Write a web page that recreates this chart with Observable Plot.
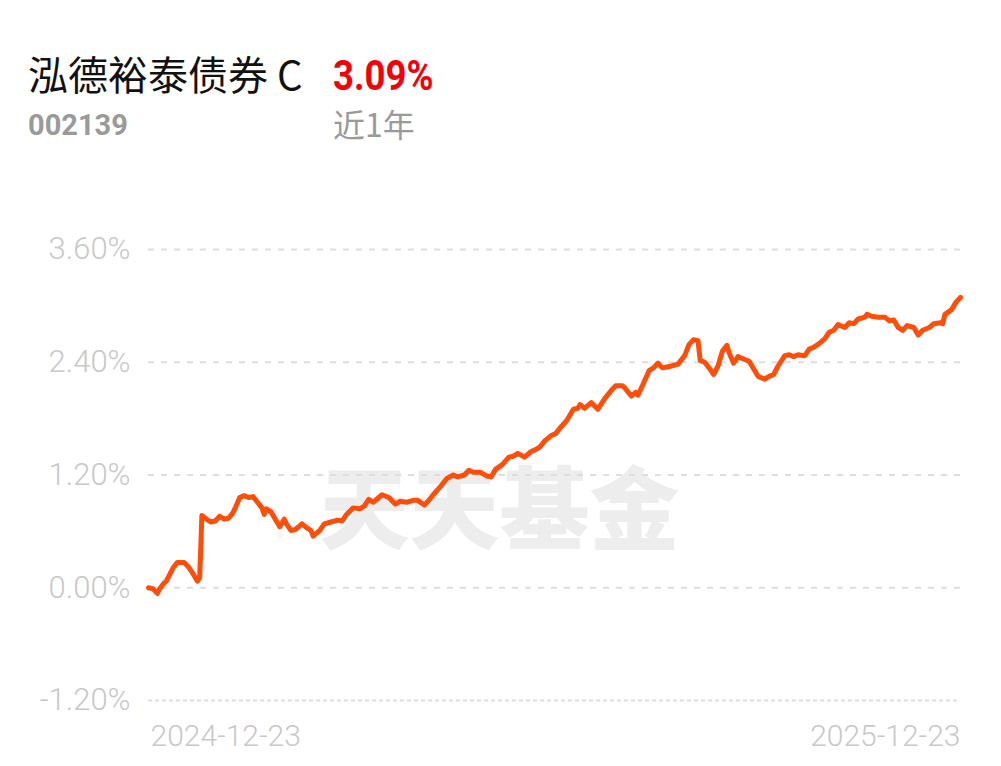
<!DOCTYPE html>
<html>
<head>
<meta charset="utf-8">
<script src="https://cdn.jsdelivr.net/npm/d3@7"></script>
<script src="https://cdn.jsdelivr.net/npm/@observablehq/plot@0.6"></script>
<style>
  html, body { margin: 0; padding: 0; background: #fff; }
  #page { position: relative; width: 1001px; height: 766px; overflow: hidden; }
  #header { position: absolute; left: 0; top: 0; }
  #chart { position: absolute; left: 0; top: 160px; }
</style>
</head>
<body>
<div id="page">
  <svg id="header" width="1001" height="160" xmlns="http://www.w3.org/2000/svg">
    <text id="name" x="28" y="90" style="font: 400 40px 'Noto Sans CJK SC', sans-serif; fill: #111;"></text>
    <text id="ret" x="333" y="90" transform="translate(333,0) scale(0.87,1) translate(-333,0)" style="font: 700 42px Roboto, sans-serif; fill: #f5000a;"></text>
    <text id="code" x="28" y="135" style="font: 700 29px Roboto, sans-serif; fill: #9a9a9a;"></text>
    <text id="period" x="333" y="137" style="font: 400 32px 'Noto Sans CJK SC', sans-serif; fill: #9a9a9a;"></text>
  </svg>
  <div id="chart"></div>
</div>
<script>
const fundName = "泓德裕泰债券 C";
const fundCode = "002139";
const periodLabel = "近1年";
const totalReturn = "3.09%";

const dates = [
  "2024-12-23","2024-12-25","2024-12-27","2024-12-28","2024-12-30","2024-12-31",
  "2025-01-03","2025-01-05","2025-01-08","2025-01-10","2025-01-12","2025-01-14","2025-01-15","2025-01-16","2025-01-18","2025-01-20","2025-01-22","2025-01-24","2025-01-26","2025-01-28","2025-01-30","2025-01-31",
  "2025-02-02","2025-02-04","2025-02-06","2025-02-08","2025-02-10","2025-02-12","2025-02-13","2025-02-14","2025-02-16","2025-02-18","2025-02-20","2025-02-22","2025-02-23","2025-02-25","2025-02-27",
  "2025-03-02","2025-03-04","2025-03-06","2025-03-07","2025-03-10","2025-03-12","2025-03-15","2025-03-18","2025-03-20","2025-03-22","2025-03-25","2025-03-28","2025-03-30",
  "2025-04-01","2025-04-03","2025-04-07","2025-04-10","2025-04-13","2025-04-15","2025-04-18","2025-04-21","2025-04-23","2025-04-26","2025-04-28","2025-04-30",
  "2025-05-03","2025-05-06","2025-05-09","2025-05-11","2025-05-14","2025-05-16","2025-05-18","2025-05-21","2025-05-24","2025-05-26","2025-05-28","2025-05-31",
  "2025-06-03","2025-06-05","2025-06-07","2025-06-10","2025-06-13","2025-06-15","2025-06-17","2025-06-19","2025-06-22","2025-06-24","2025-06-26","2025-06-29",
  "2025-07-02","2025-07-04","2025-07-05","2025-07-07","2025-07-10","2025-07-13","2025-07-16","2025-07-19","2025-07-21","2025-07-24","2025-07-25","2025-07-28","2025-07-30","2025-07-31",
  "2025-08-02","2025-08-05","2025-08-07","2025-08-09","2025-08-11","2025-08-13","2025-08-15","2025-08-18","2025-08-21","2025-08-23","2025-08-25","2025-08-27","2025-08-28","2025-08-30",
  "2025-09-01","2025-09-03","2025-09-05","2025-09-07","2025-09-09","2025-09-10","2025-09-12","2025-09-14","2025-09-17","2025-09-19","2025-09-21","2025-09-23","2025-09-26","2025-09-28","2025-09-30",
  "2025-10-02","2025-10-05","2025-10-07","2025-10-09","2025-10-11","2025-10-14","2025-10-16","2025-10-18","2025-10-20","2025-10-23","2025-10-25","2025-10-27","2025-10-29",
  "2025-11-01","2025-11-03","2025-11-05","2025-11-07","2025-11-10","2025-11-11","2025-11-13","2025-11-16","2025-11-19","2025-11-21","2025-11-23","2025-11-25","2025-11-27","2025-11-29",
  "2025-12-02","2025-12-04","2025-12-06","2025-12-09","2025-12-11","2025-12-14","2025-12-15","2025-12-16","2025-12-19","2025-12-21","2025-12-23"
];
const returns = [
  0.00,-0.01,-0.06,-0.01,0.05,0.07,
  0.21,0.27,0.27,0.22,0.15,0.07,0.11,0.77,0.73,0.70,0.71,0.76,0.73,0.74,0.80,0.85,
  0.96,0.98,0.96,0.97,0.91,0.85,0.78,0.84,0.81,0.73,0.65,0.73,0.68,0.61,0.62,
  0.68,0.64,0.61,0.55,0.61,0.68,0.70,0.72,0.71,0.78,0.85,0.84,0.87,
  0.94,0.91,0.99,0.96,0.89,0.92,0.91,0.93,0.93,0.88,0.93,0.99,
  1.07,1.16,1.20,1.18,1.20,1.25,1.23,1.23,1.19,1.18,1.26,1.31,
  1.39,1.40,1.43,1.39,1.45,1.47,1.50,1.56,1.62,1.64,1.70,1.78,
  1.90,1.91,1.95,1.91,1.97,1.90,2.01,2.10,2.15,2.15,2.13,2.04,2.08,2.05,
  2.15,2.31,2.34,2.39,2.34,2.35,2.36,2.38,2.47,2.59,2.64,2.63,2.42,2.40,
  2.34,2.27,2.36,2.52,2.58,2.50,2.39,2.46,2.43,2.41,2.33,2.25,2.22,2.25,2.27,
  2.36,2.47,2.48,2.46,2.48,2.47,2.54,2.56,2.59,2.65,2.72,2.74,2.80,
  2.77,2.82,2.81,2.86,2.88,2.91,2.89,2.88,2.88,2.84,2.85,2.77,2.74,2.79,
  2.77,2.69,2.74,2.77,2.81,2.82,2.81,2.91,2.96,3.04,3.09
];
const yTicks = [-1.2, 0, 1.2, 2.4, 3.6];
const xTickLabels = ["2024-12-23", "2025-12-23"];
const watermark = "天天基金";

const data = dates.map((d, i) => ({date: new Date(d), value: returns[i]}));
const startDate = new Date(xTickLabels[0]);
const endDate = new Date(xTickLabels[1]);
const fmtDate = d3.utcFormat("%Y-%m-%d");

document.getElementById("name").textContent = fundName;
document.getElementById("code").textContent = fundCode;
document.getElementById("period").textContent = periodLabel;
document.getElementById("ret").textContent = totalReturn;

const axisStyle = {fontSize: 31, fontWeight: 300, fill: "#c8c8c8", label: null, tickSize: 0};

const chart = Plot.plot({
  width: 1001,
  height: 606,
  marginLeft: 148,
  marginRight: 41,
  marginTop: 89,
  marginBottom: 66,
  style: {fontFamily: "Roboto, sans-serif", background: "#fff", overflow: "visible"},
  x: {type: "utc", domain: [startDate, endDate]},
  y: {domain: [-1.2, 3.6]},
  marks: [
    Plot.text([watermark], {frameAnchor: "middle", dx: -55, dy: 38, fontSize: 90, fontWeight: 900, fill: "#ededed", fontFamily: "'Noto Sans CJK SC', sans-serif", letterSpacing: -2}),
    Plot.ruleY(yTicks.filter(t => t !== -1.2), {stroke: "#dedede", strokeWidth: 2, strokeDasharray: "6,7"}),
    Plot.ruleY([-1.2], {stroke: "#dedede", strokeWidth: 2, strokeDasharray: "4,3"}),
    Plot.axisY({...axisStyle, ticks: yTicks, tickPadding: 18, tickFormat: d => d.toFixed(2) + "%"}),
    Plot.axisX({...axisStyle, fontSize: 30, ticks: [startDate], tickPadding: 24, tickFormat: fmtDate, textAnchor: "start", dx: 2}),
    Plot.axisX({...axisStyle, fontSize: 30, ticks: [endDate], tickPadding: 24, tickFormat: fmtDate, textAnchor: "end"}),
    Plot.lineY(data, {x: "date", y: "value", stroke: "#ff4d0a", strokeWidth: 5, strokeLinejoin: "round", strokeLinecap: "round"})
  ]
});
document.getElementById("chart").appendChild(chart);
</script>
</body>
</html>
